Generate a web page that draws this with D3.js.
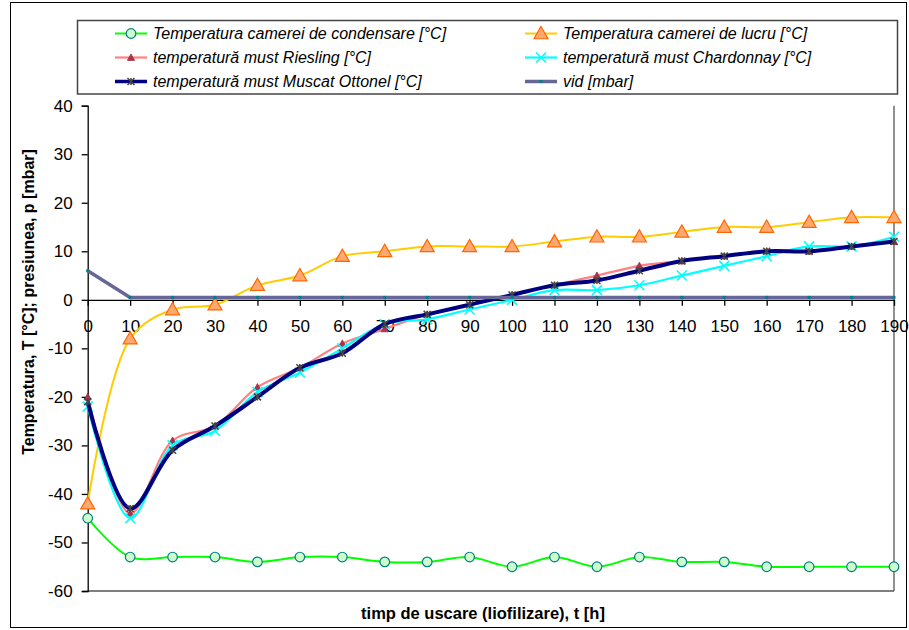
<!DOCTYPE html>
<html><head><meta charset="utf-8">
<script src="https://cdn.jsdelivr.net/npm/d3@7"></script>
<style>body{margin:0;background:#fff}svg{display:block}text{font-family:"Liberation Sans",Arial,sans-serif}</style>
</head><body><svg id="c" width="909" height="630"></svg>
<script>
const hours = [0,10,20,30,40,50,60,70,80,90,100,110,120,130,140,150,160,170,180,190];
const condensare = [-45,-53,-53,-53,-54,-53,-53,-54,-54,-53,-55,-53,-55,-53,-54,-54,-55,-55,-55,-55];
const lucru = [-42,-8,-2,-1,3,5,9,10,11,11,11,12,13,13,14,15,15,16,17,17];
const riesling = [-20,-44,-29,-26,-18,-14,-9,-6,-3,-1,1,3,5,7,8,9,10,10,11,12];
const chardonnay = [-22,-45,-30,-27,-19,-15,-10,-5,-4,-2,0,2,2,3,5,7,9,11,11,13];
const muscat = [-21,-43,-31,-26,-20,-14,-11,-5,-3,-1,1,3,4,6,8,9,10,10,11,12];
const vid = [6,0.5,0.5,0.5,0.5,0.5,0.5,0.5,0.5,0.5,0.5,0.5,0.5,0.5,0.5,0.5,0.5,0.5,0.5,0.5];
const yTicks = [40,30,20,10,0,-10,-20,-30,-40,-50,-60];
const names = ["Temperatura camerei de condensare [°C]","Temperatura camerei de lucru [°C]",
  "temperatură must Riesling [°C]","temperatură must Chardonnay [°C]",
  "temperatură must Muscat Ottonel [°C]","vid [mbar]"];

const svg = d3.select("#c");
const x = d3.scaleLinear().domain([0,190]).range([87.7,894]);
const y = d3.scaleLinear().domain([-60,40]).range([591,105.7]);
const fmt = d => String(d);

// outer border
svg.append("rect").attr("x",10.5).attr("y",2.5).attr("width",896).attr("height",625)
  .attr("fill","#fff").attr("stroke","#000").attr("stroke-width",1);

// plot borders (right, bottom)
svg.append("line").attr("x1",x(190)).attr("x2",x(190)).attr("y1",y(40)).attr("y2",y(-60)).attr("stroke","#555").attr("stroke-width",1.3);
svg.append("line").attr("x1",x(0)).attr("x2",x(190)).attr("y1",y(-60)).attr("y2",y(-60)).attr("stroke","#555").attr("stroke-width",1.3);

// y axis
const yAxis = d3.axisLeft(y).tickValues(yTicks).tickSize(6).tickPadding(9).tickFormat(fmt);
const gy = svg.append("g").attr("transform",`translate(${x(0)},0)`).call(yAxis);
gy.select(".domain").attr("stroke","#000").attr("stroke-width",1.3);
gy.selectAll(".tick line").attr("stroke","#000").attr("stroke-width",1.3);
gy.selectAll(".tick text").attr("font-size",17).attr("fill","#000").attr("font-family","Liberation Sans, Arial, sans-serif");

// x axis at y=0
const xAxis = d3.axisBottom(x).tickValues(hours).tickSize(6).tickPadding(14).tickSizeOuter(0).tickFormat(fmt);
const gx = svg.append("g").attr("transform",`translate(0,${y(0)})`).call(xAxis);
gx.select(".domain").attr("stroke","#000").attr("stroke-width",1.3);
gx.selectAll(".tick line").attr("stroke","#000").attr("stroke-width",1.3);
gx.selectAll(".tick text").attr("font-size",17).attr("fill","#000").attr("font-family","Liberation Sans, Arial, sans-serif");

// axis titles
svg.append("text").attr("transform",`translate(34,${302}) rotate(-90)`).attr("text-anchor","middle")
  .attr("font-size",16).attr("font-weight","bold").text("Temperatura, T [°C]; presiunea, p [mbar]");
svg.append("text").attr("x",483).attr("y",619).attr("text-anchor","middle")
  .attr("font-size",16.5).attr("font-weight","bold").text("timp de uscare (liofilizare), t [h]");

const smooth = d3.line().x((d,i)=>x(hours[i])).y(d=>y(d)).curve(d3.curveCatmullRom.alpha(0.5));
const straight = d3.line().x((d,i)=>x(hours[i])).y(d=>y(d));

const series = [
  {data:condensare, color:"#00FF00", w:2, marker:"circle", line:smooth},
  {data:lucru, color:"#FFCC00", w:2, marker:"tri", line:smooth},
  {data:riesling, color:"#FF8080", w:2.2, marker:"smalltri", line:smooth},
  {data:chardonnay, color:"#00FFFF", w:2.2, marker:"x", line:smooth},
  {data:muscat, color:"#000080", w:4, marker:"star", line:smooth},
  {data:vid, color:"#666699", w:3.5, marker:"dot", line:straight}
];

function drawMarker(g, type, cx, cy){
  if(type==="circle"){
    g.append("circle").attr("cx",cx).attr("cy",cy).attr("r",4.8).attr("fill","#CCFFCC").attr("stroke","#008080").attr("stroke-width",1.2);
  } else if(type==="tri"){
    const s=7;
    g.append("path").attr("d",`M${cx},${cy-s}L${cx+s},${cy+s*0.75}L${cx-s},${cy+s*0.75}Z`).attr("fill","#FFA970").attr("stroke","#FF6600").attr("stroke-width",1.2);
  } else if(type==="smalltri"){
    const s=3.6;
    g.append("path").attr("d",`M${cx},${cy-s}L${cx+s},${cy+s*0.8}L${cx-s},${cy+s*0.8}Z`).attr("fill","#B03050").attr("stroke","#993344").attr("stroke-width",0.8);
  } else if(type==="x"){
    const s=5;
    g.append("path").attr("d",`M${cx-s},${cy-s}L${cx+s},${cy+s}M${cx-s},${cy+s}L${cx+s},${cy-s}`).attr("stroke","#00FFFF").attr("stroke-width",1.6);
  } else if(type==="star"){
    const s=3.5;
    g.append("path").attr("d",`M${cx-s},${cy-s}L${cx+s},${cy+s}M${cx-s},${cy+s}L${cx+s},${cy-s}M${cx},${cy-s}L${cx},${cy+s}`).attr("stroke","#444").attr("stroke-width",1.5);
  } else if(type==="dot"){
    g.append("rect").attr("x",cx-1.5).attr("y",cy-1.5).attr("width",3).attr("height",3).attr("fill","#008080");
  }
}

series.forEach(s=>{
  const g = svg.append("g");
  g.append("path").attr("d",s.line(s.data)).attr("fill","none").attr("stroke",s.color).attr("stroke-width",s.w).attr("stroke-linejoin","round");
  s.data.forEach((v,i)=>drawMarker(g,s.marker,x(hours[i]),y(v)));
});

// legend
const lg = svg.append("g");
lg.append("rect").attr("x",77.5).attr("y",20.5).attr("width",820).attr("height",73.5).attr("fill","#fff").attr("stroke","#444").attr("stroke-width",1.5);
const cols = [115,525], rows=[33.5,57.5,81.5];
series.forEach((s,i)=>{
  const cx = cols[i%2], cy = rows[Math.floor(i/2)];
  lg.append("line").attr("x1",cx).attr("x2",cx+32).attr("y1",cy).attr("y2",cy).attr("stroke",s.color).attr("stroke-width",Math.min(s.w,3.5));
  drawMarker(lg, s.marker, cx+16, cy);
  lg.append("text").attr("x",cx+38).attr("y",cy+5.5).attr("font-size",16).attr("font-style","italic").attr("fill","#000").text(names[i]);
});
</script></body></html>
